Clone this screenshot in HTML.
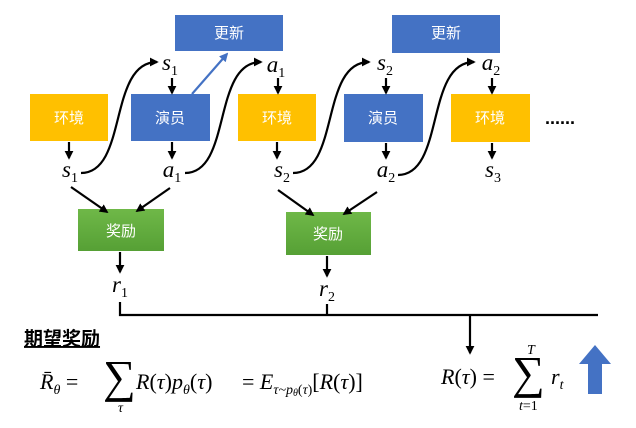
<!DOCTYPE html>
<html><head><meta charset="utf-8"><style>
body{margin:0;background:#fff;width:636px;height:423px;overflow:hidden}
</style></head><body>
<svg width="636" height="423" viewBox="0 0 636 423" xmlns="http://www.w3.org/2000/svg">
<defs>
<marker id="ah" viewBox="0 0 10 10" refX="8" refY="5" markerWidth="4" markerHeight="4" orient="auto"><path d="M0,0L10,5L0,10z" fill="#000"/></marker>
<marker id="ab" viewBox="0 0 10 10" refX="8" refY="5" markerWidth="4" markerHeight="4" orient="auto"><path d="M0,0L10,5L0,10z" fill="#4472c4"/></marker>
<linearGradient id="g" x1="0" y1="0" x2="0" y2="1"><stop offset="0" stop-color="#6fb848"/><stop offset="1" stop-color="#56a035"/></linearGradient>
</defs>
<g font-family="Liberation Sans, Noto Sans CJK SC, sans-serif" font-size="15" fill="#fff" text-anchor="middle">
<rect x="175" y="15" width="108" height="36" fill="#4472c4"/><text x="229" y="38">更新</text>
<rect x="392" y="15" width="108" height="38" fill="#4472c4"/><text x="446" y="38">更新</text>
<rect x="30" y="94" width="78" height="47" fill="#ffc000"/><text x="69" y="123">环境</text>
<rect x="131" y="94" width="79" height="47" fill="#4472c4"/><text x="170" y="123">演员</text>
<rect x="238" y="94" width="78" height="47" fill="#ffc000"/><text x="277" y="123">环境</text>
<rect x="344" y="94" width="79" height="48" fill="#4472c4"/><text x="383" y="123">演员</text>
<rect x="451" y="94" width="79" height="48" fill="#ffc000"/><text x="490" y="123">环境</text>
<rect x="78" y="209" width="86" height="42" fill="url(#g)"/><text x="121" y="236">奖励</text>
<rect x="286" y="212" width="85" height="43" fill="url(#g)"/><text x="328" y="239">奖励</text>
</g>
<text x="560" y="124" font-family="Liberation Sans" font-size="18" font-weight="bold" text-anchor="middle">......</text>
<g font-family="Liberation Serif, serif" font-style="italic" font-size="23" text-anchor="middle">
<text x="170" y="70">s<tspan font-size="14" font-style="normal" dy="5">1</tspan></text>
<text x="276" y="72">a<tspan font-size="14" font-style="normal" dy="5">1</tspan></text>
<text x="385" y="70">s<tspan font-size="14" font-style="normal" dy="5">2</tspan></text>
<text x="491" y="70">a<tspan font-size="14" font-style="normal" dy="5">2</tspan></text>
<text x="70" y="177">s<tspan font-size="14" font-style="normal" dy="5">1</tspan></text>
<text x="172" y="177">a<tspan font-size="14" font-style="normal" dy="5">1</tspan></text>
<text x="282" y="177">s<tspan font-size="14" font-style="normal" dy="5">2</tspan></text>
<text x="386" y="177">a<tspan font-size="14" font-style="normal" dy="5">2</tspan></text>
<text x="493" y="177">s<tspan font-size="14" font-style="normal" dy="5">3</tspan></text>
<text x="120" y="292">r<tspan font-size="14" font-style="normal" dy="5">1</tspan></text>
<text x="327" y="296">r<tspan font-size="14" font-style="normal" dy="5">2</tspan></text>
</g>
<g stroke="#000" stroke-width="2.2" fill="none" marker-end="url(#ah)">
<line x1="172" y1="78" x2="172" y2="93"/><line x1="278" y1="78" x2="278" y2="93"/>
<line x1="386" y1="78" x2="386" y2="93"/><line x1="492" y1="78" x2="492" y2="93"/>
<line x1="69" y1="142" x2="69" y2="158"/><line x1="172" y1="142" x2="172" y2="158"/>
<line x1="277" y1="142" x2="277" y2="158"/><line x1="386" y1="143" x2="386" y2="158"/>
<line x1="492" y1="143" x2="492" y2="158"/>
<line x1="71" y1="187" x2="107" y2="212"/><line x1="170" y1="188" x2="137" y2="211"/>
<line x1="278" y1="190" x2="313" y2="215"/><line x1="377" y1="192" x2="344" y2="214"/>
<line x1="120" y1="252" x2="120" y2="272"/><line x1="327" y1="256" x2="327" y2="276"/>
<line x1="470" y1="315" x2="470" y2="353"/>
<path d="M81,173 C128,173 108,62 157,62"/>
<path d="M185,173 C232,173 212,62 261,62"/>
<path d="M293,173 C340,173 320,62 369,62"/>
<path d="M398,175 C445,175 425,62 474,62"/>
</g>
<line x1="192" y1="94" x2="227" y2="54" stroke="#4472c4" stroke-width="2.2" marker-end="url(#ab)"/>
<path d="M120,302 V315 H598 M327,304 V315" stroke="#000" stroke-width="2.2" fill="none"/>
<text x="24" y="345" font-family="Liberation Sans, Noto Sans CJK SC, sans-serif" font-size="19" font-weight="bold" text-decoration="underline">期望奖励</text>
<g font-family="Liberation Serif, serif" font-size="22">
<text x="40" y="389"><tspan font-style="italic">R̄</tspan><tspan font-size="14" font-style="italic" dy="5">θ</tspan><tspan dy="-5"> = </tspan></text>
<text x="103" y="392" font-size="46">∑</text>
<text x="118" y="412" font-size="14" font-style="italic">τ</text>
<text x="136" y="389"><tspan font-style="italic">R</tspan>(<tspan font-style="italic">τ</tspan>)<tspan font-style="italic">p</tspan><tspan font-size="14" font-style="italic" dy="5">θ</tspan><tspan dy="-5">(</tspan><tspan font-style="italic">τ</tspan>)</text>
<text x="242" y="389">= <tspan font-style="italic">E</tspan><tspan font-size="14" font-style="italic" dy="5">τ~p</tspan><tspan font-size="10" font-style="italic" dy="2">θ</tspan><tspan font-size="14" dy="-2">(</tspan><tspan font-size="14" font-style="italic">τ</tspan><tspan font-size="14">)</tspan><tspan dy="-5">[</tspan><tspan font-style="italic">R</tspan>(<tspan font-style="italic">τ</tspan>)]</text>
<text x="441" y="384"><tspan font-style="italic">R</tspan>(<tspan font-style="italic">τ</tspan>) = </text>
<text x="512" y="388" font-size="46">∑</text>
<text x="527" y="354" font-size="14" font-style="italic">T</text>
<text x="519" y="410" font-size="14"><tspan font-style="italic">t</tspan>=1</text>
<text x="551" y="384" font-style="italic">r<tspan font-size="14" dy="5">t</tspan></text>
</g>
<path d="M595,345 L611,364 H602 V394 H588 V364 H579 Z" fill="#4472c4"/>
</svg>
</body></html>
